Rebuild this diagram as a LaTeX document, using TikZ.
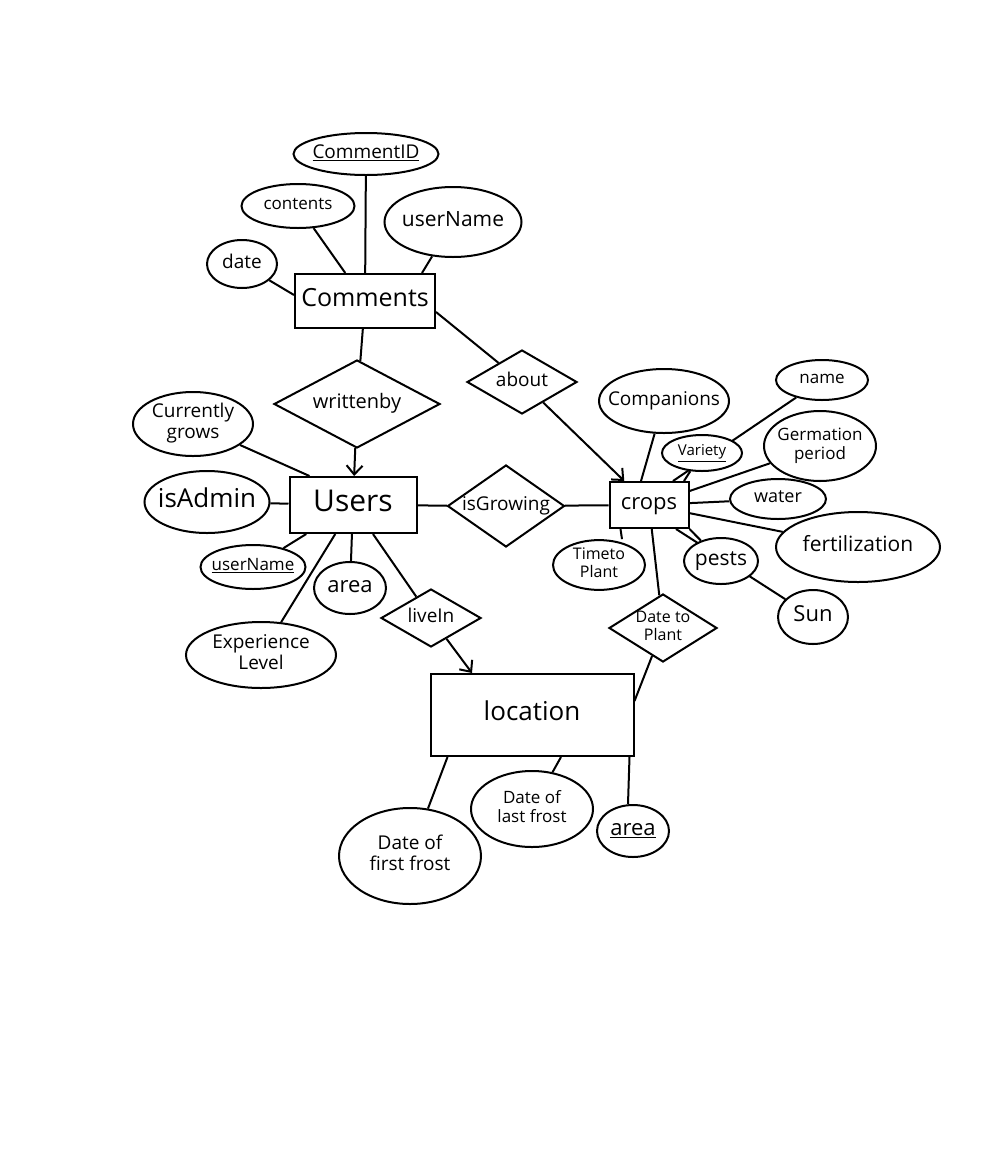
\documentclass[tikz,border=0pt]{standalone}
\usepackage{fontspec}
\setmainfont{Open Sans}
\usetikzlibrary{arrows.meta, shapes, backgrounds}

% label text: size in pt, zero width so the shape keeps its given size
\newcommand{\lbl}[2]{\makebox[0pt]{\fontsize{#1}{#1}\selectfont\def\arraystretch{1.1}\begin{tabular}{@{}c@{}}#2\end{tabular}}}

\begin{document}
\begin{tikzpicture}[
    x=1pt, y=-1pt,
    entity/.style={rectangle, draw, fill=white, line width=2pt, inner sep=0pt},
    attr/.style={ellipse, draw, fill=white, line width=2pt, inner sep=0pt},
    rel/.style={diamond, draw, fill=white, line width=2pt, inner sep=0pt},
    link/.style={line width=2pt},
    arrow/.style={line width=2pt, -{Straight Barb[length=9pt, width=16pt]}},
]
    \useasboundingbox (0,0) rectangle (1000,1149);

    % Comments and its attributes
    \node[entity, minimum width=140, minimum height=54] (comm) at (365,301) {\lbl{25}{Comments}};
    \node[attr, minimum width=145, minimum height=42] (cid) at (366,154) {\lbl{19}{\underline{CommentID}}};
    \node[attr, minimum width=113, minimum height=44] (cont) at (298,206) {\lbl{17}{contents}};
    \node[attr, minimum width=137, minimum height=70] (cuname) at (453,222) {\lbl{21}{userName}};
    \node[attr, minimum width=70, minimum height=48] (cdate) at (242,264) {\lbl{19}{date}};

    % relationships
    \node[rel, aspect=1.9, minimum width=166, minimum height=88] (wby) at (357,404) {\lbl{20}{writtenby}};
    \node[rel, aspect=1.7, minimum width=110, minimum height=64] (about) at (522,382) {\lbl{19}{about}};
    \node[rel, aspect=1.4, minimum width=117, minimum height=82] (grow) at (506,506) {\lbl{19}{isGrowing}};
    \node[rel, aspect=1.7, minimum width=100, minimum height=58] (livein) at (431,618) {\lbl{19}{liveIn}};
    \node[rel, aspect=1.6, minimum width=108, minimum height=68] (dtp) at (663,628) {\lbl{16}{Date to\\Plant}};

    % Users and its attributes
    \node[entity, minimum width=127, minimum height=56] (users) at (353,505) {\lbl{30}{Users}};
    \node[attr, minimum width=120, minimum height=64] (cgrow) at (193,424) {\lbl{19}{Currently\\grows}};
    \node[attr, minimum width=125, minimum height=62] (admin) at (207,502) {\lbl{26}{isAdmin}};
    \node[attr, minimum width=105, minimum height=44] (uname) at (253,567) {\lbl{17}{\underline{userName}}};
    \node[attr, minimum width=72, minimum height=52] (uarea) at (350,588) {\lbl{22}{area}};
    \node[attr, minimum width=150, minimum height=66] (exp) at (261,655) {\lbl{19}{Experience\\Level}};

    % crops and its attributes
    \node[entity, minimum width=79, minimum height=46] (crops) at (649,505) {\lbl{22}{crops}};
    \node[attr, minimum width=130, minimum height=64] (comp) at (664,401) {\lbl{19}{Companions}};
    \node[attr, minimum width=92, minimum height=40] (cname) at (822,380) {\lbl{17}{name}};
    \node[attr, minimum width=80, minimum height=36] (variety) at (702,453) {\lbl{15}{\underline{Variety}}};
    \node[attr, minimum width=112, minimum height=70] (germ) at (820,446) {\lbl{17}{Germation\\period}};
    \node[attr, minimum width=96, minimum height=40] (water) at (778,499) {\lbl{18}{water}};
    \node[attr, minimum width=164, minimum height=70] (fert) at (858,547) {\lbl{21}{fertilization}};
    \node[attr, minimum width=74, minimum height=46] (pests) at (721,561) {\lbl{21}{pests}};
    \node[attr, minimum width=70, minimum height=54] (sun) at (813,617) {\lbl{22}{Sun}};
    \node[attr, minimum width=92, minimum height=44] (ttp) at (599,565) {\lbl{16}{Timeto\\Plant}};

    % location and its attributes
    \node[entity, minimum width=203, minimum height=82] (loc) at (532,715) {\lbl{26}{location}};
    \node[attr, minimum width=142, minimum height=96] (first) at (410,856) {\lbl{19}{Date of\\first frost}};
    \node[attr, minimum width=122, minimum height=76] (last) at (532,809) {\lbl{17}{Date of\\last frost}};
    \node[attr, minimum width=72, minimum height=52] (larea) at (633,831) {\lbl{22}{\underline{area}}};

    % connect everything (behind the shapes)
    \begin{pgfonlayer}{background}
    \draw[link] (cid) -- (comm);
    \draw[link] (cont) -- (comm);
    \draw[link] (cuname) -- ([xshift=-14pt]comm.north east);
    \draw[link] (cdate) -- ([yshift=6pt]comm.west);
    \draw[link] (comm) -- (wby);
    \draw[link] ([yshift=-11pt]comm.east) -- (about);
    \draw[link] (cgrow) -- ([xshift=21pt]users.north west);
    \draw[link] (admin) -- (users);
    \draw[link] (uname) -- (users);
    \draw[link] (uarea) -- (users);
    \draw[link] (exp) -- (users);
    \draw[link] (users) -- (livein);
    \draw[link] (users) -- (grow);
    \draw[link] (grow) -- (crops);
    \draw[link] (comp) -- ([xshift=-8pt]crops.north);
    \draw[link] (cname) -- ([xshift=24pt]crops.north);
    \draw[link] (variety) -- ([xshift=35pt]crops.north);
    \draw[link] (germ) -- (crops);
    \draw[link] (water) -- (crops);
    \draw[link] (fert) -- (crops);
    \draw[link] (sun) -- ([xshift=27pt]crops.south);
    \draw[link] (pests) -- (crops.south east);
    \draw[link] ([xshift=12pt]crops.south west) -- ([xshift=23pt]ttp.north);
    \draw[link] (crops) -- (dtp);
    \draw[link] (dtp) -- ([yshift=14pt]loc.east);
    \draw[link] ([xshift=18pt]loc.south west) -- (first);
    \draw[link] ([xshift=29pt]loc.south) -- (last);
    \draw[link] ([xshift=-5pt]loc.south east) -- ([xshift=-5pt]larea.north);
    \end{pgfonlayer}

    \draw[arrow] (wby) -- (users);
    \draw[arrow] (about) -- (crops);
    \draw[arrow] (livein) -- ([xshift=-60pt]loc.north);
\end{tikzpicture}
\end{document}
